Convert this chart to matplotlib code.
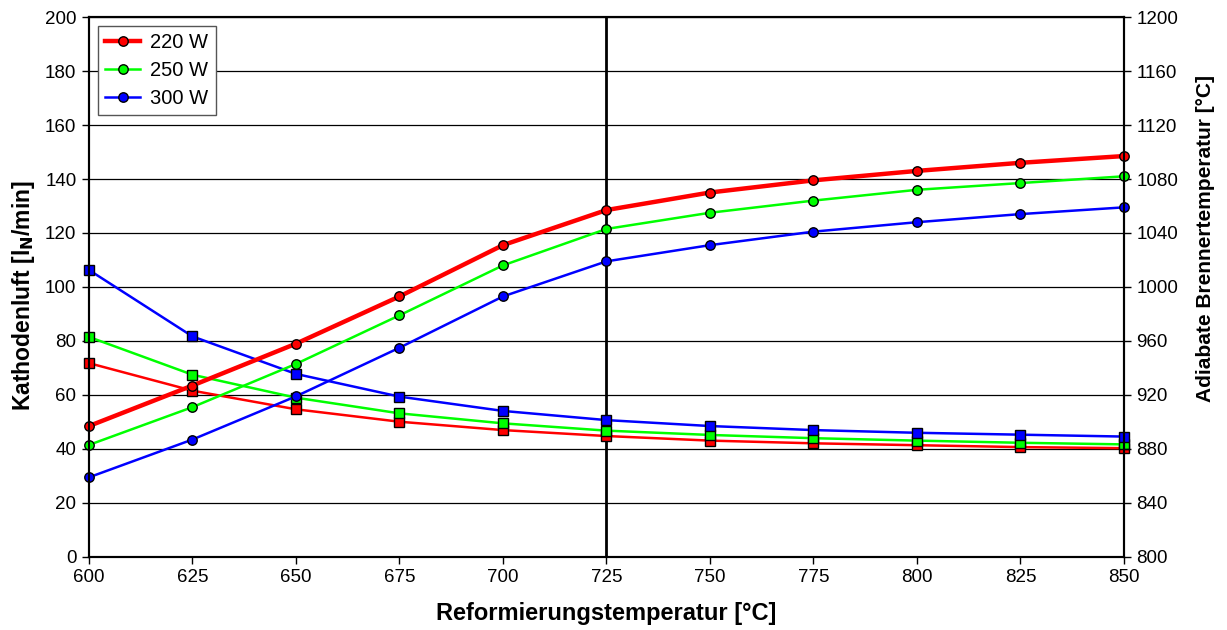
import numpy as np
import matplotlib.pyplot as plt

plt.rcParams.update({
    "font.family": ["Liberation Sans", "DejaVu Sans"],
    "font.size": 12,
})

# Reformierungstemperatur [°C]
t_ref = [600, 625, 650, 675, 700, 725, 750, 775, 800, 825, 850]
powers = ["220 W", "250 W", "300 W"]
colors = ["#ff0000", "#00ff00", "#0000ff"]

# Kathodenluft [l_N/min] (squares, left axis)
air_220 = [71.8, 61.6, 54.7, 50.1, 47.0, 44.8, 43.1, 42.1, 41.4, 40.7, 40.3]
air_250 = [81.5, 67.5, 59.0, 53.2, 49.5, 46.8, 45.2, 44.0, 43.1, 42.3, 41.7]
air_300 = [106.3, 81.7, 67.8, 59.4, 54.1, 50.7, 48.5, 47.0, 46.0, 45.3, 44.6]

# Adiabate Brennertemperatur [°C] (circles, right axis)
burn_220 = [897, 927, 958, 993, 1031, 1057, 1070, 1079, 1086, 1092, 1097]
burn_250 = [883, 911, 943, 979, 1016, 1043, 1055, 1064, 1072, 1077, 1082]
burn_300 = [859, 887, 919, 955, 993, 1019, 1031, 1041, 1048, 1054, 1059]

air = [air_220, air_250, air_300]
burn = [burn_220, burn_250, burn_300]
lw_burn = [3.2, 1.8, 1.8]

fig = plt.figure(figsize=(12.27, 6.3), dpi=100)
ax = fig.add_axes([0.0725, 0.1159, 0.8435, 0.8571])
ax2 = ax.twinx()

for y, c in zip(air, colors):
    ax.plot(t_ref, y, color=c, linewidth=1.8, marker="s", markersize=6.5,
            markerfacecolor=c, markeredgecolor="black", markeredgewidth=1.0,
            clip_on=False)

handles = []
for y, c, lw, lab in zip(burn, colors, lw_burn, powers):
    h, = ax2.plot(t_ref, y, color=c, linewidth=lw, marker="o", markersize=6.8,
                  markerfacecolor=c, markeredgecolor="black",
                  markeredgewidth=1.0, label=lab, clip_on=False)
    handles.append(h)

ax.axvline(725, color="black", linewidth=2, zorder=1)

ax.set_xlim(600, 850)
ax.set_ylim(0, 200)
ax2.set_ylim(800, 1200)
ax.set_xticks(np.arange(600, 851, 25))
ax.set_yticks(np.arange(0, 201, 20))
ax2.set_yticks(np.arange(800, 1201, 40))
ax.yaxis.grid(True, color="black", linewidth=0.9)
ax.set_axisbelow(True)

for a in (ax, ax2):
    a.tick_params(direction="out", length=5, width=1, labelsize=13.5, pad=4)
    for s in a.spines.values():
        s.set_linewidth(1.5)

ax.set_xlabel("Reformierungstemperatur [°C]", fontsize=17, fontweight="bold",
              labelpad=11)
ax.set_ylabel(r"Kathodenluft [l$_\mathbf{N}$/min]", fontsize=16.5,
              fontweight="bold", labelpad=6)
ax2.set_ylabel("Adiabate Brennertemperatur [°C]", fontsize=15,
               fontweight="bold", labelpad=13)
ax.yaxis.label.set_y(0.485)
ax2.yaxis.label.set_y(0.589)

leg = ax2.legend(handles=handles, loc="upper left", fontsize=14.5,
                 fancybox=False, framealpha=1, edgecolor="#555555",
                 borderaxespad=0.45, borderpad=0.35, handlelength=1.75,
                 handletextpad=0.5, labelspacing=0.45)
leg.get_frame().set_linewidth(1.0)

fig.savefig("out.png", dpi=100)
